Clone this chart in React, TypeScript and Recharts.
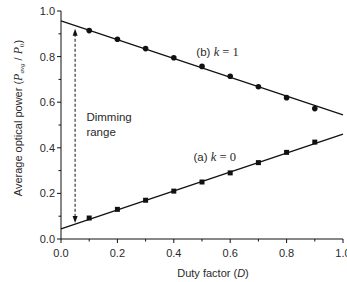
import React from "react";
import { ComposedChart, Line, XAxis, YAxis, ReferenceLine, ReferenceDot } from "recharts";

const duty = [0.1, 0.2, 0.3, 0.4, 0.5, 0.6, 0.7, 0.8, 0.9];
const kOneMeasured = [0.914, 0.876, 0.835, 0.795, 0.757, 0.714, 0.668, 0.62, 0.572];
const kZeroMeasured = [0.092, 0.13, 0.17, 0.21, 0.25, 0.29, 0.335, 0.38, 0.425];
const fitDuty = [0, 1];
const kOneFit = [0.957, 0.544];
const kZeroFit = [0.044, 0.46];
const xTicks = [0, 0.1, 0.2, 0.3, 0.4, 0.5, 0.6, 0.7, 0.8, 0.9, 1.0];
const yTicks = [0, 0.1, 0.2, 0.3, 0.4, 0.5, 0.6, 0.7, 0.8, 0.9, 1.0];

const rows = [
  { d: fitDuty[0], f1: kOneFit[0], f0: kZeroFit[0] },
  ...duty.map((d, i) => ({ d, m1: kOneMeasured[i], m0: kZeroMeasured[i] })),
  { d: fitDuty[1], f1: kOneFit[1], f0: kZeroFit[1] },
];

const SANS = "'Liberation Sans', Arial, sans-serif";
const SERIF = "'Liberation Serif', 'Times New Roman', serif";
const TXT = "#2a2a2a";
const INK = "#111";

const isMajor = (v: number) => Math.round(v * 10) % 2 === 0;

const XTick = (props: any) => {
  const { x, y, payload } = props;
  const v = payload.value;
  const major = isMajor(v);
  return (
    <g>
      <line x1={x} y1={y} x2={x} y2={y + (major ? 4 : 2.5)} stroke={INK} strokeWidth={1} />
      {major && (
        <text x={x} y={y + 18} textAnchor="middle" fontSize={11} fontFamily={SANS} fill={TXT}>
          {v.toFixed(1)}
        </text>
      )}
    </g>
  );
};

const YTick = (props: any) => {
  const { x, y, payload } = props;
  const v = payload.value;
  const major = isMajor(v);
  return (
    <g>
      <line x1={x} y1={y} x2={x - (major ? 4 : 2.5)} y2={y} stroke={INK} strokeWidth={1} />
      {major && (
        <text x={x - 6} y={y + 4} textAnchor="end" fontSize={11} fontFamily={SANS} fill={TXT}>
          {v.toFixed(1)}
        </text>
      )}
    </g>
  );
};

const CircleDot = (props: any) => {
  const { cx, cy, index } = props;
  if (cy == null || cx == null || isNaN(cy)) return <g key={`c${index}`} />;
  return <circle key={`c${index}`} cx={cx} cy={cy} r={2.8} fill={INK} />;
};

const SquareDot = (props: any) => {
  const { cx, cy, index } = props;
  if (cy == null || cx == null || isNaN(cy)) return <g key={`s${index}`} />;
  return <rect key={`s${index}`} x={cx - 2.5} y={cy - 2.5} width={5} height={5} fill={INK} />;
};

const ArrowShape = (props: any) => {
  const { x1, y1, x2, y2 } = props;
  const top = Math.min(y1, y2);
  const bot = Math.max(y1, y2);
  return (
    <g>
      <line x1={x1} y1={top + 5} x2={x2} y2={bot - 5} stroke={INK} strokeWidth={1} strokeDasharray="3 2" />
      <path d={`M${x1},${top} L${x1 - 2.5},${top + 7} L${x1 + 2.5},${top + 7} Z`} fill={INK} />
      <path d={`M${x1},${bot} L${x1 - 2.5},${bot - 7} L${x1 + 2.5},${bot - 7} Z`} fill={INK} />
    </g>
  );
};

const TextAt = (lines: string[]) => (props: any) => {
  const { cx, cy } = props;
  return (
    <text x={cx} y={cy} fontSize={11.5} fontFamily={SANS} fill={TXT}>
      {lines.map((l, i) => (
        <tspan key={i} x={cx} dy={i === 0 ? 4 : 15}>
          {l}
        </tspan>
      ))}
    </text>
  );
};

const SeriesLabel = (tag: string, k: string) => (props: any) => {
  const { cx, cy } = props;
  return (
    <text x={cx} y={cy + 4} fontSize={11.5} fill={TXT} fontFamily={SANS}>
      <tspan>{tag} </tspan>
      <tspan fontFamily={SERIF} fontStyle="italic" fontSize={12.5}>k</tspan>
      <tspan fontFamily={SERIF} fontSize={12.5}> = {k}</tspan>
    </text>
  );
};

const XTitle = (props: any) => {
  const vb = props.viewBox || {};
  const cx = vb.x + 152;
  return (
    <text x={cx} y={vb.y + 38} textAnchor="middle" fontSize={11} fontFamily={SANS} fill={TXT}>
      <tspan>Duty factor (</tspan>
      <tspan fontStyle="italic">D</tspan>
      <tspan>)</tspan>
    </text>
  );
};

const YTitle = (props: any) => {
  const x = 22;
  const y = 118;
  return (
    <text
      x={x}
      y={y}
      transform={`rotate(-90, ${x}, ${y})`}
      textAnchor="middle"
      fontSize={11}
      fontFamily={SANS}
      fill={TXT}
    >
      <tspan>Average optical power (</tspan>
      <tspan fontFamily={SERIF} fontStyle="italic" fontSize={12}>P</tspan>
      <tspan fontFamily={SERIF} fontStyle="italic" fontSize={7} dy={2}>avg</tspan>
      <tspan dy={-2}> / </tspan>
      <tspan fontFamily={SERIF} fontStyle="italic" fontSize={12}>P</tspan>
      <tspan fontFamily={SERIF} fontSize={7} dy={2}>0</tspan>
      <tspan dy={-2}>)</tspan>
    </text>
  );
};

export default function App() {
  return (
    <div style={{ position: "absolute", left: 0, top: 0, width: 347, height: 282, background: "#fff" }}>
      <ComposedChart width={347} height={282} data={rows} margin={{ top: 11, right: 4, bottom: 0, left: 0 }}>
        <XAxis
          dataKey="d"
          type="number"
          domain={[0, 1]}
          ticks={xTicks}
          interval={0}
          tickLine={false}
          tickSize={0}
          tickMargin={0}
          tick={<XTick />}
          axisLine={{ stroke: INK, strokeWidth: 1 }}
          height={43}
          label={<XTitle />}
        />
        <YAxis
          type="number"
          domain={[0, 1]}
          ticks={yTicks}
          interval={0}
          tickLine={false}
          tickSize={0}
          tickMargin={0}
          tick={<YTick />}
          axisLine={{ stroke: INK, strokeWidth: 1 }}
          width={61}
          label={<YTitle />}
        />
        <Line dataKey="f1" stroke={INK} strokeWidth={1.3} dot={false} connectNulls isAnimationActive={false} />
        <Line dataKey="f0" stroke={INK} strokeWidth={1.3} dot={false} connectNulls isAnimationActive={false} />
        <Line dataKey="m1" stroke="none" dot={CircleDot} activeDot={false} isAnimationActive={false} />
        <Line dataKey="m0" stroke="none" dot={SquareDot} activeDot={false} isAnimationActive={false} />
        <ReferenceLine
          segment={[
            { x: 0.05, y: 0.922 },
            { x: 0.05, y: 0.07 },
          ]}
          shape={ArrowShape}
          ifOverflow="visible"
        />
        <ReferenceDot x={0.09} y={0.535} r={0} shape={TextAt(["Dimming", "range"])} ifOverflow="visible" />
        <ReferenceDot x={0.48} y={0.82} r={0} shape={SeriesLabel("(b)", "1")} ifOverflow="visible" />
        <ReferenceDot x={0.47} y={0.36} r={0} shape={SeriesLabel("(a)", "0")} ifOverflow="visible" />
      </ComposedChart>
    </div>
  );
}
